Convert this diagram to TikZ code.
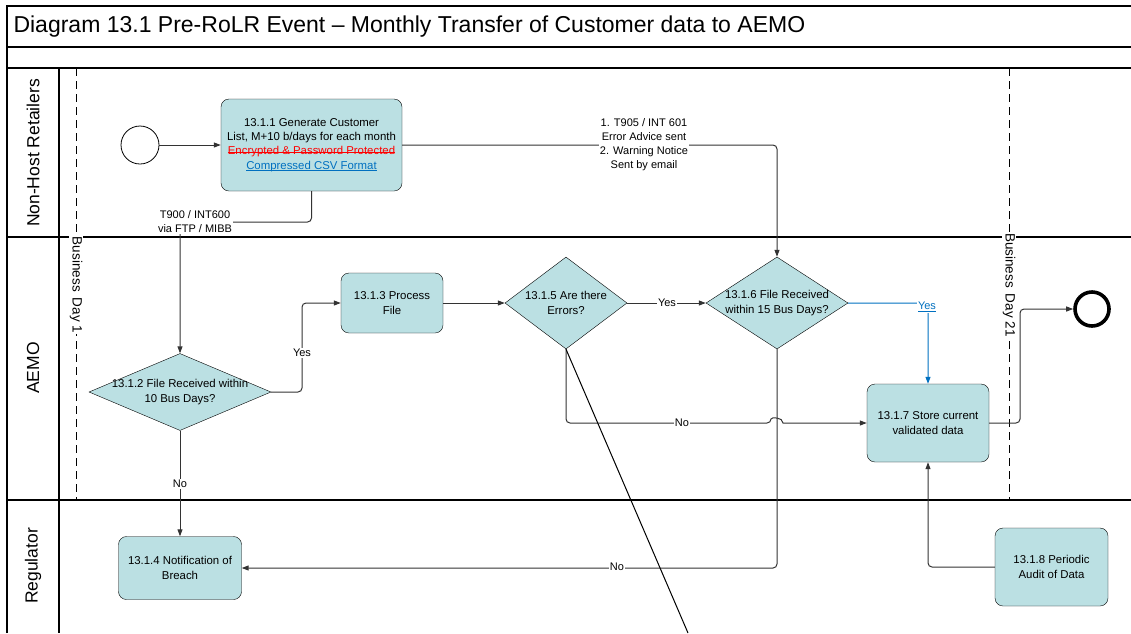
\documentclass[tikz,border=0pt]{standalone}
\usepackage{fontspec}
\setmainfont{Liberation Sans}
\usetikzlibrary{shapes.geometric,arrows.meta}
\definecolor{taskfill}{HTML}{BBE0E3}
\definecolor{linkblue}{HTML}{0070C0}
\definecolor{flow}{HTML}{333333}
\newcommand\strk[1]{\setbox0\hbox{#1}\rlap{\rule[0.3ex]{\wd0}{0.7pt}}\box0}
\newcommand\undl[1]{\setbox0\hbox{#1}\rlap{\rule[-0.3ex]{\wd0}{0.6pt}}\box0}
\begin{document}
\begin{tikzpicture}[x=1pt,y=-1pt]
			\tikzstyle{r} = [draw, rounded corners=8pt, fill=taskfill, align=center, inner sep=2pt, font=\fontsize{11.4}{14.3}\selectfont]
			\tikzstyle{d} = [draw, shape=diamond, fill=taskfill, align=center, inner xsep=-40pt, inner ysep=-14pt, font=\fontsize{11.4}{14.3}\selectfont]
			\tikzstyle{ev} = [draw, shape=circle, inner sep=0pt]
			\tikzstyle{f} = [draw=flow, line width=1pt, rounded corners=4pt, -{Triangle[length=7pt,width=5pt]}]
			\tikzstyle{lb} = [fill=white, inner sep=1pt, align=center, font=\fontsize{11}{14}\selectfont]
			\tikzstyle{lane} = [draw, line width=1.1pt]
			\tikzstyle{lanename} = [rotate=90, font=\fontsize{17.5}{19}\selectfont]
			\tikzstyle{day} = [rotate=-90, fill=white, inner sep=1pt, font=\fontsize{13.5}{16}\selectfont]
			\useasboundingbox (0,0) rectangle (1131,633);
			% pool and lanes
			\draw[lane] (7,633) -- (7,6) -- (1131,6);
			\draw[lane] (7,47) -- (1131,47);
			\draw[lane] (7,68) -- (1131,68);
			\draw[lane] (7,237) -- (1131,237);
			\draw[lane] (7,500) -- (1131,500);
			\draw[lane] (59,68) -- (59,633);
			\node[anchor=west, font=\fontsize{23}{26}\selectfont] (title) at (10,27) {Diagram 13.1 Pre-RoLR Event -- Monthly Transfer of Customer data to AEMO};
			\node[lanename] (nhr) at (33,153) {Non-Host Retailers};
			\node[lanename] (aemo) at (33,368) {AEMO};
			\node[lanename] (reg) at (33,566) {Regulator};
			% business day markers
			\draw[dashed, dash pattern=on 8pt off 5pt, line width=0.8pt] (76,68) -- (76,500);
			\draw[dashed, dash pattern=on 8pt off 5pt, line width=0.8pt] (1009,68) -- (1009,500);
			\node[day] (day1) at (76,285) {Business \,Day 1};
			\node[day] (day21) at (1009,285) {Business \,Day 21};
			% events
			\node[ev, minimum size=38pt, line width=0.8pt] (start) at (140,145) {};
			\node[ev, minimum size=34pt, line width=3.6pt] (end) at (1092,309) {};
			% tasks
			\node[r, minimum width=181pt, minimum height=92pt] (gen) at (311.5,145) {13.1.1 Generate Customer\\List, M+10 b/days for each month\\\textcolor{red}{\strk{Encrypted \& Password Protected}}\\\textcolor{linkblue}{\undl{Compressed CSV Format}}};
			\node[r, minimum width=102pt, minimum height=60pt] (proc) at (392,303) {13.1.3 Process\\File};
			\node[r, minimum width=123pt, minimum height=63pt] (breach) at (180,568) {13.1.4 Notification of\\Breach};
			\node[r, minimum width=122pt, minimum height=78pt] (store) at (928,423) {13.1.7 Store current\\validated data};
			\node[r, minimum width=113pt, minimum height=78pt] (audit) at (1051.5,567) {13.1.8 Periodic\\Audit of Data};
			% gateways
			\node[d, minimum width=182pt, minimum height=77pt] (recv10) at (180,392) {13.1.2 File Received within\\10 Bus Days?};
			\node[d, minimum width=122pt, minimum height=92pt] (errs) at (566,303) {13.1.5 Are there\\Errors?};
			\node[d, minimum width=142pt, minimum height=92pt] (recv15) at (777,303) {13.1.6 File Received\\within 15 Bus Days?};
			\coordinate (tail) at (688,633);
			% flows
			\draw[f] (start) -- (gen);
			\draw[f] (gen.south) |- (180,222) -- (recv10.north);
			\node[lb] (t900) at (195,222) {T900 / INT600\\via FTP / MIBB};
			\draw[f] (gen.east) -| (recv15.north);
			\node[lb] (t905) at (644,145) {1. T905 / INT 601\\Error Advice sent\\2. Warning Notice\\Sent by email};
			\draw[f] (recv10.east) -- (302,392) |- (proc.west);
			\node[lb] (yes1) at (302,353) {Yes};
			\draw[f] (proc) -- (errs);
			\draw[f] (errs) -- (recv15);
			\node[lb] (yes2) at (667,303) {Yes};
			\draw[f, draw=linkblue, -{Triangle[length=7pt,width=5pt,fill=linkblue]}] (recv15.east) -| (store.north);
			\node[lb, text=linkblue] (yes3) at (927,307) {\undl{Yes}};
			\draw[f] (errs.south) |- (771,423) [sharp corners] .. controls (771,417) and (783,417) .. (783,423) -- (store.west);
			\node[lb] (no1) at (682,423) {No};
			\draw[f] (recv15.south) |- (breach.east);
			\node[lb] (no2) at (617,567) {No};
			\draw[f] (recv10.south) -- (breach.north);
			\node[lb] (no3) at (180,484) {No};
			\draw[f] (audit.west) -| (store.south);
			\draw[f] (store.east) -- (1020,423) |- (end.west);
			\draw[line width=1pt] (errs.south) -- (tail);
\end{tikzpicture}
\end{document}
